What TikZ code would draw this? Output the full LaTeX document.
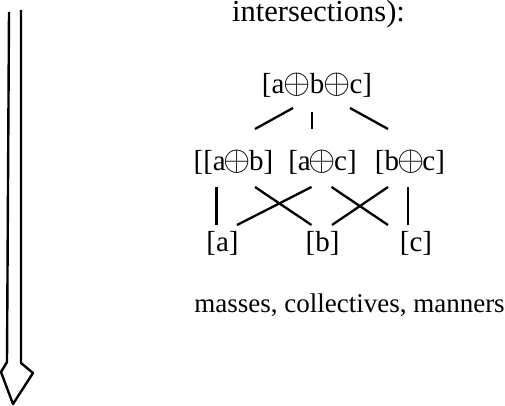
\RequirePackage{fix-cm}
\documentclass[tikz,border=0pt]{standalone}
\usepackage{fontspec}
\setmainfont{Liberation Serif}
\usetikzlibrary{positioning}

\newcommand{\op}{{\fontsize{35}{35}\selectfont$\mkern-1mu{\oplus}\mkern-1mu$}}

\begin{document}
\begin{tikzpicture}[x=1pt,y=-1pt,
  lab/.style={inner sep=0pt,font=\fontsize{29}{34}\selectfont},
  captext/.style={inner sep=0pt,anchor=base},
  link/.style={line width=2.3pt}]
\useasboundingbox (0,0) rectangle (505,406);

% downward arrow on the left
\draw[line width=2.4pt,line join=round] (9,12) -- (7,362) -- (1,372) -- (13,404)
  -- (33,373) -- (21,363) -- (21,10);

% captions
\node[captext,font=\fontsize{30.5}{36}\selectfont] (head) at (318.5,22) {intersections):};
\node[captext,font=\fontsize{27}{32}\selectfont] (foot) at (349.5,312) {masses, collectives, manners};

% lattice
\node[lab] (abc) at (317,85.5) {[a\kern1pt\op\kern1pt b\kern1pt\op\kern1pt c]};
\node[lab] (ab) at (233.5,162) {[[a\op b]};
\node[lab] (ac) at (322.5,162) {[a\op c]};
\node[lab] (bc) at (410,162) {[b\op c]};
\node[lab] (a) at (222.5,243.5) {[a]};
\node[lab] (b) at (322.5,243.5) {[b]};
\node[lab] (c) at (416,243.5) {[c]};

\draw[link] ([shift={(-24,22.5)}]abc.center) -- ([shift={(21.5,-33)}]ab.center);
\draw[link] ([shift={(-5,27)}]abc.center) -- ([shift={(-10.5,-33)}]ac.center);
\draw[link] ([shift={(33,22.5)}]abc.center) -- ([shift={(-22,-33)}]bc.center);

\draw[link] ([shift={(-17,25)}]ab.center) -- ([shift={(-6,-18.5)}]a.center);
\draw[link] ([shift={(21.5,25)}]ab.center) -- ([shift={(-11,-18.5)}]b.center);
\draw[link] ([shift={(-11,25)}]ac.center) -- ([shift={(14.5,-18.5)}]a.center);
\draw[link] ([shift={(9,25)}]ac.center) -- ([shift={(-28,-18.5)}]c.center);
\draw[link] ([shift={(-22,25)}]bc.center) -- ([shift={(9.5,-18.5)}]b.center);
\draw[link] ([shift={(-2,25)}]bc.center) -- ([shift={(-8,-18.5)}]c.center);
\end{tikzpicture}
\end{document}
